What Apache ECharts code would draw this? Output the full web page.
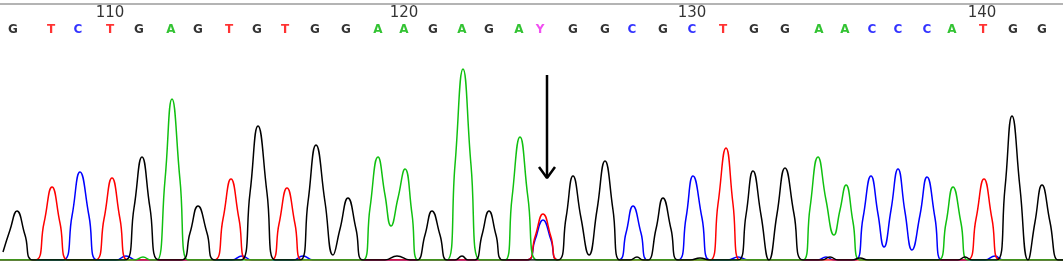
<!DOCTYPE html>
<html>
<head>
<meta charset="utf-8">
<script src="https://cdn.jsdelivr.net/npm/echarts@6/dist/echarts.min.js"></script>
<style>
html,body{margin:0;padding:0;background:#fff;}
#c{width:1063px;height:264px;}
</style>
</head>
<body>
<div id="c"></div>
<script>
// Base calls and their trace positions
var bases = ['G','T','C','T','G','A','G','T','G','T','G','G','A','A','G','A','G','A','Y','G','G','C','G','C','T','G','G','A','A','C','C','C','A','T','G','G'];
var basePos = [13,51,78,110,139,171,198,229,257,285,315,346,378,404,433,462,489,519,540,573,605,632,663,692,723,754,785,819,845,872,898,927,952,983,1013,1042];
var tickLabels = ['110','120','130','140'];
var tickPos = [110,404,692,982];

// Trace samples [scan position, signal]
var traceG = [[3,8],[10,30],[17,49],[25,25],[33,0],
  [125,0],[134,52],[142,103],[150,52],[159,0],
  [181,0],[190,27],[198,54],[207,27],[215,0],
  [241,0],[250,67],[258,134],[267,67],[275,0],
  [300,0],[308,58],[316,115],[325,58],[333,5],[340,31],[348,62],[356,31],[363,0],
  [385,0],[397,4],[410,0],
  [417,0],[425,25],[432,49],[440,25],[447,0],[455,0],[462,4],[468,0],
  [475,0],[482,25],[489,49],[496,25],[503,0],
  [558,0],[566,42],[573,84],[581,42],[589,5],[597,50],[605,99],[613,50],[620,0],
  [630,0],[637,3],[643,0],
  [648,0],[656,31],[663,62],[671,31],[678,0],
  [690,0],[700,2],[710,0],
  [738,0],[746,45],[753,89],[761,45],[769,0],[777,46],[785,92],[794,46],[803,0],
  [822,0],[830,3],[838,0],[852,0],[860,2],[868,0],
  [958,0],[965,3],[972,0],
  [997,0],[1005,72],[1012,144],[1020,72],[1028,0],[1035,38],[1042,75],[1050,38],[1058,0],[1063,0]];
var traceT = [[0,0],[35,0],[44,37],[52,73],[60,37],[68,0],
  [95,0],[104,41],[112,82],[120,41],[128,0],
  [214,0],[223,41],[231,81],[239,41],[247,0],
  [271,0],[279,36],[287,72],[295,36],[302,0],
  [527,0],[535,23],[543,46],[551,23],[558,0],
  [710,0],[718,56],[726,112],[733,56],[740,0],
  [967,0],[976,41],[984,81],[992,41],[1000,0],[1063,0]];
var traceC = [[0,0],[63,0],[72,44],[80,88],[89,44],[97,0],
  [116,0],[126,4],[136,0],
  [232,0],[242,4],[252,0],
  [293,0],[303,4],[313,0],
  [527,0],[535,20],[543,40],[551,20],[558,0],
  [618,0],[626,27],[633,54],[641,27],[648,0],
  [678,0],[686,42],[693,84],[702,42],[710,0],
  [728,0],[738,3],[748,0],
  [818,0],[826,3],[834,0],
  [855,0],[863,42],[871,84],[878,46],[884,13],[891,50],[898,91],[905,48],[912,10],[920,45],[927,83],[935,42],[942,0],
  [985,0],[995,4],[1003,0],[1063,0]];
var traceA = [[0,0],[135,0],[143,3],[151,0],
  [157,0],[165,80],[172,161],[180,80],[188,0],
  [363,0],[370,52],[378,103],[385,65],[391,34],[398,62],[405,91],[412,46],[418,0],
  [447,0],[455,95],[463,191],[471,95],[480,0],
  [505,0],[512,62],[520,123],[528,62],[537,0],
  [803,0],[810,52],[818,103],[826,60],[834,25],[840,50],[846,75],[853,38],[860,0],
  [938,0],[946,37],[953,73],[961,37],[968,0],[1063,0]];
var arrowShaft = [[547,185],[547,82]];
var arrowHead = [[539,93],[547,82],[555,93]];

var baseColor = {G:'#000000', T:'#ff0000', C:'#0000ff', A:'#00b400', Y:'#ee22ee'};

function traceSeries(data, color){
  return {type:'line', xAxisIndex:0, yAxisIndex:0, data:data, smooth:0.5,
    showSymbol:false, symbol:'none', lineStyle:{color:color, width:1.5}, silent:true};
}

var chart = echarts.init(document.getElementById('c'), null, {renderer:'canvas'});
chart.setOption({
  animation:false,
  backgroundColor:'#ffffff',
  grid:[
    {left:0, right:0, top:60, bottom:4},
    {left:0, right:0, top:4, height:36}
  ],
  xAxis:[
    {type:'value', gridIndex:0, min:0, max:1063, show:false},
    {type:'value', gridIndex:1, min:0, max:1063, position:'top',
      axisLine:{show:true, lineStyle:{color:'#b4b4b4', width:2}},
      axisTick:{show:false}, axisLabel:{show:false}, splitLine:{show:false}}
  ],
  yAxis:[
    {type:'value', gridIndex:0, min:0, max:200, show:false},
    {type:'value', gridIndex:1, min:4, max:40, inverse:true, show:false}
  ],
  series:[
    traceSeries(traceC, '#0000ff'),
    traceSeries(traceT, '#ff0000'),
    traceSeries(traceA, '#10c010'),
    traceSeries(traceG, '#000000'),
    {type:'line', data:arrowShaft, symbol:'none', lineStyle:{color:'#000', width:2.5}, silent:true},
    {type:'line', data:arrowHead, symbol:'none', lineStyle:{color:'#000', width:2.5}, silent:true},
    {type:'scatter', xAxisIndex:1, yAxisIndex:1, symbolSize:2, itemStyle:{color:'rgba(0,0,0,0)'}, silent:true,
      data: bases.map(function(b,i){return {value:[basePos[i],30], name:b,
        label:{show:true, position:'inside', formatter:b, color:baseColor[b],
          fontFamily:'DejaVu Sans', fontWeight:'bold', fontSize:12}};})},
    {type:'scatter', xAxisIndex:1, yAxisIndex:1, symbolSize:2, itemStyle:{color:'rgba(0,0,0,0)'}, silent:true,
      data: tickLabels.map(function(t,i){return {value:[tickPos[i],13], name:t,
        label:{show:true, position:'inside', formatter:t, color:'#000',
          fontFamily:'DejaVu Sans', fontSize:15}};})}
  ]
});
</script>
</body>
</html>
